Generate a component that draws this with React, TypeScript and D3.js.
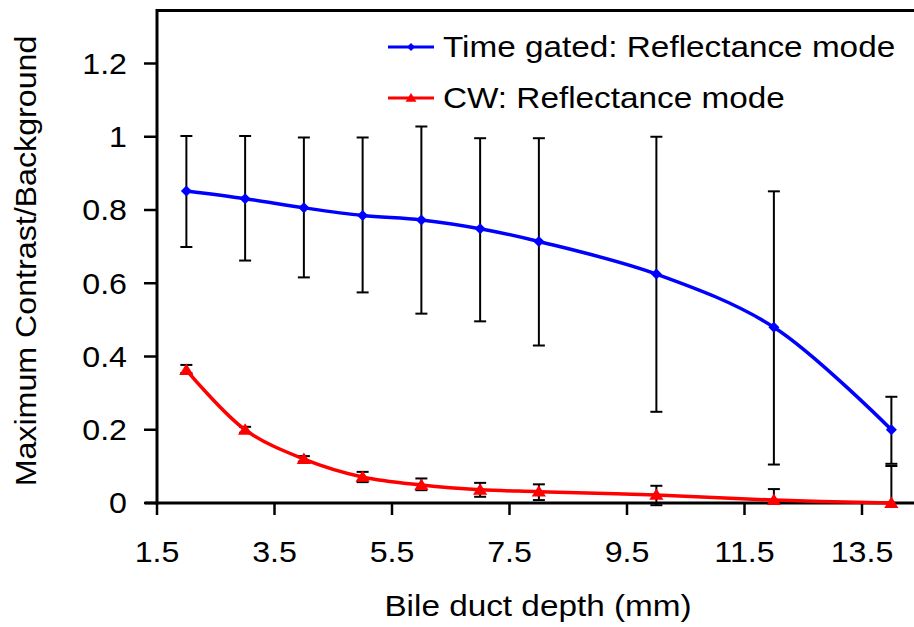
import React from "react";
import * as d3 from "d3";

const depths = [2, 3, 4, 5, 6, 7, 8, 10, 12, 14];
const tgMean = [0.852, 0.831, 0.806, 0.785, 0.773, 0.749, 0.714, 0.625, 0.48, 0.2];
const tgUpper = [1.002, 1.002, 0.998, 0.998, 1.028, 0.996, 0.996, 1.0, 0.851, 0.29];
const tgLower = [0.699, 0.662, 0.616, 0.575, 0.517, 0.496, 0.43, 0.249, 0.105, 0.107];
const cwMean = [0.363, 0.2, 0.12, 0.071, 0.049, 0.036, 0.031, 0.022, 0.008, 0.0];
const cwUpper = [0.377, 0.208, 0.128, 0.085, 0.067, 0.055, 0.051, 0.047, 0.038, 0.101];
const cwLower = [0.355, 0.192, 0.113, 0.057, 0.035, 0.017, 0.008, -0.006, 0, 0];
const xTicks = [1.5, 3.5, 5.5, 7.5, 9.5, 11.5, 13.5];
const yTicks = [0, 0.2, 0.4, 0.6, 0.8, 1, 1.2];
const seriesNames = ["Time gated: Reflectance mode", "CW: Reflectance mode"];
const xTitle = "Bile duct depth (mm)";
const yTitle = "Maximum Contrast/Background";

const FONT = "'Liberation Sans', Arial, sans-serif";
const SX = 1.11;

function T(props: { x: number; y: number; anchor?: string; size: number; rotate?: number; dy?: string; children: React.ReactNode }) {
  const { x, y, anchor = "start", size, rotate = 0, dy, children } = props;
  return (
    <text
      transform={`translate(${x},${y}) rotate(${rotate}) scale(${SX},1)`}
      textAnchor={anchor}
      fontSize={size}
      dy={dy}
      fill="#000"
    >
      {children}
    </text>
  );
}

export default function App() {
  const W = 914, H = 627;
  const x = d3.scaleLinear().domain([1.5, 14.5]).range([157, 920.75]);
  const y = d3.scaleLinear().domain([0, 1.2]).range([503, 63.5]);
  const yTop = y(1.345);

  const line = d3
    .line<[number, number]>()
    .x((d) => x(d[0]))
    .y((d) => y(d[1]))
    .curve(d3.curveCatmullRom.alpha(0.5));

  const tgPts = depths.map((d, i) => [d, tgMean[i]] as [number, number]);
  const cwPts = depths.map((d, i) => [d, cwMean[i]] as [number, number]);

  const cap = 6;
  const errBars = (lo: number[], hi: number[], key: string) =>
    depths.map((d, i) => {
      const cx = x(d);
      return (
        <g key={key + i} stroke="#000" strokeWidth={2}>
          <line x1={cx} x2={cx} y1={y(hi[i])} y2={y(lo[i])} />
          <line x1={cx - cap} x2={cx + cap} y1={y(hi[i])} y2={y(hi[i])} />
          <line x1={cx - cap} x2={cx + cap} y1={y(lo[i])} y2={y(lo[i])} />
        </g>
      );
    });

  const diamond = (cx: number, cy: number, r: number, k: string) => (
    <path key={k} d={`M${cx},${cy - r}L${cx + r},${cy}L${cx},${cy + r}L${cx - r},${cy}Z`} fill="#0000ff" />
  );
  const triangle = (cx: number, cy: number, r: number, k: string) => (
    <path key={k} d={`M${cx},${cy - r}L${cx + r * 1.1},${cy + r * 0.75}L${cx - r * 1.1},${cy + r * 0.75}Z`} fill="#ff0000" />
  );

  return (
    <svg width={W} height={H} style={{ position: "absolute", left: 0, top: 0, background: "#fff" }} fontFamily={FONT}>
      <rect width={W} height={H} fill="#fff" />
      {/* frame */}
      <line x1={x(1.5)} x2={W} y1={yTop} y2={yTop} stroke="#000" strokeWidth={3} />
      <line x1={x(1.5)} x2={x(1.5)} y1={yTop - 1.5} y2={y(0) + 1.5} stroke="#000" strokeWidth={3} />
      <line x1={x(1.5) - 12} x2={W} y1={y(0)} y2={y(0)} stroke="#000" strokeWidth={3} />
      {yTicks.map((t) => (
        <g key={"yt" + t}>
          <line x1={x(1.5) - 13} x2={x(1.5)} y1={y(t)} y2={y(t)} stroke="#000" strokeWidth={2.5} />
          <T x={127} y={y(t)} dy="0.36em" anchor="end" size={29}>
            {String(t)}
          </T>
        </g>
      ))}
      {xTicks.map((t) => (
        <g key={"xt" + t}>
          <line x1={x(t)} x2={x(t)} y1={y(0)} y2={y(0) + 12} stroke="#000" strokeWidth={2.5} />
          <T x={x(t)} y={562} anchor="middle" size={29}>
            {t.toFixed(1)}
          </T>
        </g>
      ))}
      <T x={538} y={616} anchor="middle" size={30}>
        {xTitle}
      </T>
      <text transform={`translate(36,261) rotate(-90) scale(${SX},1)`} textAnchor="middle" fontSize={29} fill="#000">
        {yTitle}
      </text>

      {errBars(tgLower, tgUpper, "tg")}
      {errBars(cwLower, cwUpper, "cw")}

      <path d={line(tgPts) || ""} fill="none" stroke="#0000ff" strokeWidth={3.5} />
      <path d={line(cwPts) || ""} fill="none" stroke="#ff0000" strokeWidth={3.5} />
      {tgPts.map((p, i) => diamond(x(p[0]), y(p[1]), 5.5, "d" + i))}
      {cwPts.map((p, i) => triangle(x(p[0]), y(p[1]), 6.5, "t" + i))}

      {/* legend */}
      <line x1={388} x2={434} y1={47} y2={47} stroke="#0000ff" strokeWidth={3} />
      {diamond(411, 47, 4, "ld")}
      <T x={443} y={57} size={30}>{seriesNames[0]}</T>
      <line x1={388} x2={434} y1={98} y2={98} stroke="#ff0000" strokeWidth={3} />
      {triangle(411, 98, 5, "lt")}
      <T x={443} y={108} size={30}>{seriesNames[1]}</T>
    </svg>
  );
}
